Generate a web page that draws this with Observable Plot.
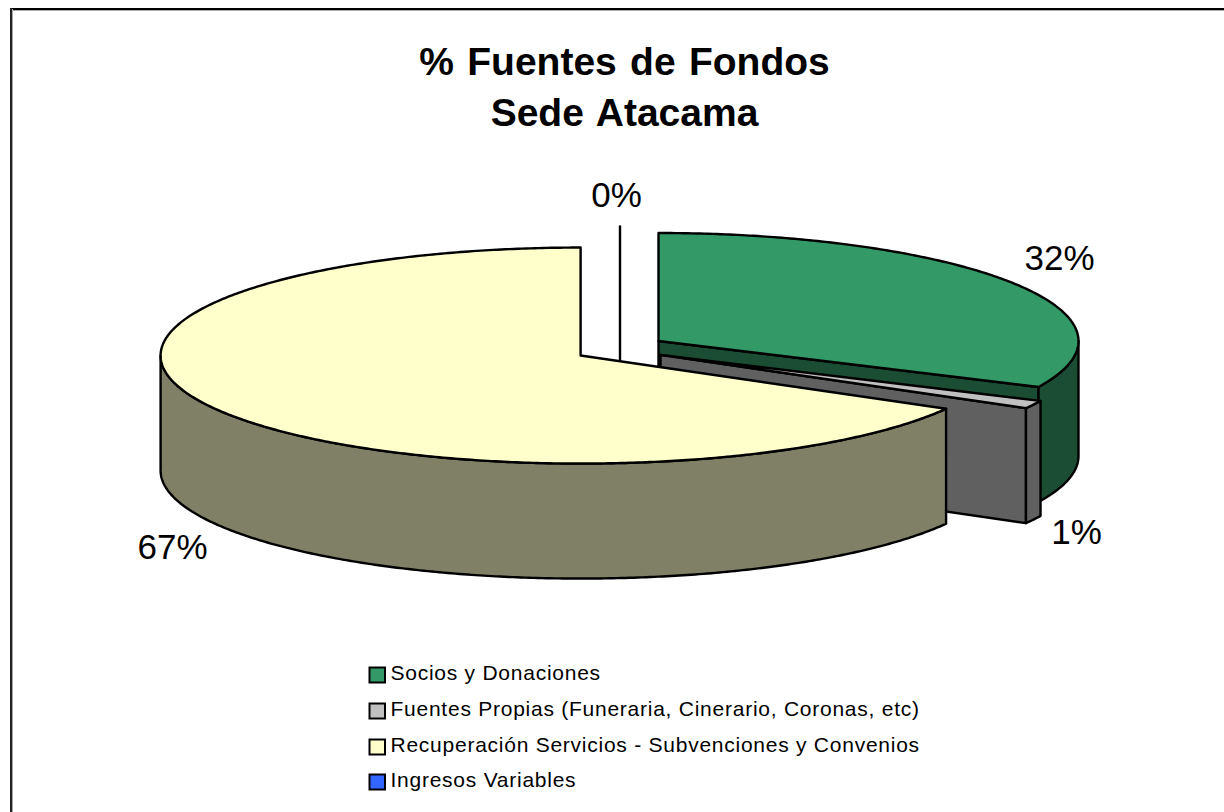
<!DOCTYPE html>
<html>
<head>
<meta charset="utf-8">
<style>html,body{margin:0;padding:0;background:#fff}svg{display:block}
.legend-text text{letter-spacing:.75px}
.title-text text{word-spacing:2.5px}
</style>
<script src="https://cdn.jsdelivr.net/npm/d3@7"></script>
<script src="https://cdn.jsdelivr.net/npm/@observablehq/plot@0.6"></script>
</head>
<body>
<script>
// Data
const titleLines = ["% Fuentes de Fondos", "Sede Atacama"];
const categories = ["Socios y Donaciones", "Fuentes Propias (Funeraria, Cinerario, Coronas, etc)", "Recuperación Servicios - Subvenciones y Convenios", "Ingresos Variables"];
const shares = [32, 1.2, 66.8, 0];
// Styles
const topColors = ["#339966", "#c0c0c0", "#ffffcc", "#3366ff"];
const sideColors = ["#1a4d33", "#606060", "#808066", "#1a3380"];
// Layout
const W = 1224, H = 812;
const base = {x: 619.5, y: 348}, rx = 420, ry = 108, depth = 115, explodeX = 45.6, explodeY = 14;
const labelAt = [[1059, 258], [1076, 532], [172, 547], [616, 195]];
const rowY = [675, 711, 747, 782];
const textY = [673, 709, 745, 780];
const font = "Liberation Sans, Arial, sans-serif";

const rad = d => d * 360 / 100 * Math.PI / 180;
let acc = 0;
const slices = shares.map((v, i) => {
  const a0 = acc, a1 = acc + v; acc = a1;
  const mid = rad((a0 + a1) / 2);
  return {i, v, a0: rad(a0), a1: rad(a1),
    cx: base.x + explodeX * Math.sin(mid), cy: base.y - explodeY * Math.cos(mid)};
});
const onRim = (s, t, dz = 0) => ({x: s.cx + rx * Math.sin(t), y: s.cy - ry * Math.cos(t) + dz});
const arc = (s, t0, t1, dz = 0) => {
  const n = Math.max(2, Math.ceil(Math.abs(t1 - t0) / 0.01));
  return d3.range(n + 1).map(k => onRim(s, t0 + (t1 - t0) * k / n, dz));
};
const centre = (s, dz = 0) => ({x: s.cx, y: s.cy + dz});
const topFace = s => [centre(s), ...arc(s, s.a0, s.a1)];
const rimFace = (s, t0, t1) => [...arc(s, t0, t1), ...arc(s, t1, t0, depth)];
const cutFace = (s, t) => [centre(s), onRim(s, t), onRim(s, t, depth), centre(s, depth)];

const poly = (pts, fill) => Plot.line(pts, {x: "x", y: "y", fill, stroke: "#000", strokeWidth: 2.4,
  strokeLinejoin: "round", curve: "linear-closed"});

const [socios, fuentes, recup, ingresos] = slices;
const marks = [
  // frame
  Plot.ruleY([8.5], {x1: 10, x2: W, stroke: "#000", strokeWidth: 2}),
  Plot.ruleY([10], {x1: 11, x2: W, stroke: "#aaa", strokeWidth: 1}),
  Plot.ruleX([10.5], {y1: 8, y2: H, stroke: "#222", strokeWidth: 2}),
  Plot.ruleX([12], {y1: 9, y2: H, stroke: "#aaa", strokeWidth: 1}),
  // 0% slice: a single edge
  Plot.line([onRim(ingresos, 0), centre(ingresos, 40)], {x: "x", y: "y", stroke: "#000", strokeWidth: 2.4}),
  // Socios
  poly(cutFace(socios, socios.a1), sideColors[0]),
  poly(rimFace(socios, Math.PI / 2, socios.a1), sideColors[0]),
  poly(topFace(socios), topColors[0]),
  // Fuentes
  poly(cutFace(fuentes, fuentes.a1), sideColors[1]),
  poly(rimFace(fuentes, fuentes.a0, fuentes.a1), sideColors[1]),
  poly(topFace(fuentes), topColors[1]),
  // Recuperacion
  poly(rimFace(recup, recup.a0, 1.5 * Math.PI), sideColors[2]),
  poly(topFace(recup), topColors[2]),
  // Title
  Plot.text(titleLines, {x: () => 624, y: (d, i) => 62 + i * 51, text: d => d, fontSize: 39, fontWeight: "bold",
    fontFamily: font, fill: "#000", className: "title-text"}),
  // Percent labels
  Plot.text(shares, {x: (d, i) => labelAt[i][0], y: (d, i) => labelAt[i][1], text: d => d3.format(".0f")(d) + "%",
    fontSize: 35, fontFamily: font, fill: "#000"}),
  // Legend
  Plot.rect(categories, {x1: () => 369.5, x2: () => 385, y1: (d, i) => rowY[i] - 7.5, y2: (d, i) => rowY[i] + 7.5,
    fill: (d, i) => topColors[i], stroke: "#000", strokeWidth: 2}),
  Plot.text(categories, {x: () => 390, y: (d, i) => textY[i], text: d => d, textAnchor: "start", fontSize: 21,
    fontFamily: font, fill: "#000", className: "legend-text"})
];

const chart = Plot.plot({
  width: W, height: H, margin: 0,
  x: {domain: [0, W], range: [0, W], axis: null},
  y: {domain: [0, H], range: [0, H], axis: null},
  style: {background: "#fff", maxWidth: "none"},
  marks
});
document.body.append(chart);
</script>
</body>
</html>
